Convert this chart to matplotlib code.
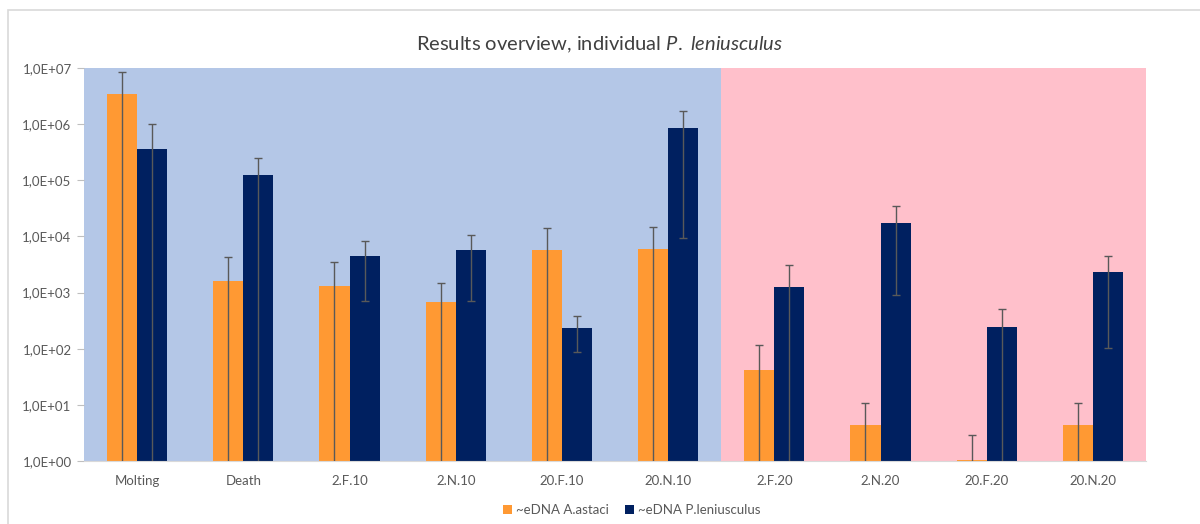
import numpy as np
import matplotlib.pyplot as plt
from matplotlib.patches import Rectangle
from matplotlib.ticker import FixedLocator, FixedFormatter

plt.rcParams['font.family'] = ['Lato', 'DejaVu Sans']
plt.rcParams['mathtext.fontset'] = 'custom'
plt.rcParams['mathtext.rm'] = 'Lato'
plt.rcParams['mathtext.it'] = 'Lato:italic'

categories = ['Molting', 'Death', '2.F.10', '2.N.10', '20.F.10', '20.N.10',
              '2.F.20', '2.N.20', '20.F.20', '20.N.20']

# ~eDNA A.astaci: mean, upper and lower error limits (0.1 = below axis)
astaci = [3.4e6, 1.6e3, 1.3e3, 6.8e2, 5.7e3, 6.0e3, 42, 4.3, 1.03, 4.3]
astaci_hi = [8.5e6, 4.3e3, 3.5e3, 1.5e3, 1.4e4, 1.47e4, 116, 10.7, 2.9, 11]
astaci_lo = [0.1, 0.1, 0.1, 0.1, 0.1, 0.1, 0.1, 0.1, 0.1, 0.1]

# ~eDNA P.leniusculus
lenius = [3.6e5, 1.24e5, 4.5e3, 5.7e3, 2.34e2, 8.5e5, 1.26e3, 1.76e4, 247, 2.3e3]
lenius_hi = [1.0e6, 2.5e5, 8.3e3, 1.06e4, 3.8e2, 1.7e6, 3.1e3, 3.5e4, 510, 4.5e3]
lenius_lo = [0.1, 0.1, 7.1e2, 7.1e2, 88, 9.4e3, 0.1, 9.06e2, 0.1, 103]

ytick_vals = [1e0, 1e1, 1e2, 1e3, 1e4, 1e5, 1e6, 1e7]
ytick_labels = ['1,0E+00', '1,0E+01', '1,0E+02', '1,0E+03',
                '1,0E+04', '1,0E+05', '1,0E+06', '1,0E+07']

n_blue = 6  # first six groups on blue background, rest on pink

c_orange = '#FF9933'
c_navy = '#002060'
c_blue = '#B4C7E7'
c_pink = '#FFC0CB'
c_err = '#595959'
c_text = '#595959'

fig = plt.figure(figsize=(12, 5.24), dpi=100)
ax = fig.add_axes([84 / 1200, 1 - 461 / 524, 1062 / 1200, 393 / 524])

# outer chart frame
fig.add_artist(Rectangle((8 / 1200, -0.1), 1.2, 1.1 - 10 / 524,
                         transform=fig.transFigure, fill=False,
                         edgecolor='#D9D9D9', lw=1.2))

x = np.arange(len(categories))
w = 0.283

ax.axvspan(-0.5, n_blue - 0.5, color=c_blue, zorder=0, lw=0)
ax.axvspan(n_blue - 0.5, len(categories) - 0.5, color=c_pink, zorder=0, lw=0)

a = np.array(astaci)
l = np.array(lenius)
ax.bar(x - w / 2, a, w, color=c_orange, label='~eDNA A.astaci', zorder=2)
ax.bar(x + w / 2, l, w, color=c_navy, label='~eDNA P.leniusculus', zorder=2)

ax.errorbar(x - w / 2, a, yerr=[a - np.array(astaci_lo), np.array(astaci_hi) - a],
            fmt='none', ecolor=c_err, elinewidth=1, capsize=3, capthick=1, zorder=3)
ax.errorbar(x + w / 2, l, yerr=[l - np.array(lenius_lo), np.array(lenius_hi) - l],
            fmt='none', ecolor=c_err, elinewidth=1, capsize=3, capthick=1, zorder=3)

ax.set_yscale('log')
ax.set_ylim(1, 1e7)
ax.set_xlim(-0.5, len(categories) - 0.5)
ax.yaxis.set_major_locator(FixedLocator(ytick_vals))
ax.yaxis.set_major_formatter(FixedFormatter(ytick_labels))
ax.yaxis.set_minor_locator(FixedLocator([]))
ax.set_xticks(x)
ax.set_xticklabels(categories)
ax.tick_params(axis='x', length=0, pad=10, labelsize=9.5, labelcolor=c_text)
ax.tick_params(axis='y', length=5, width=0.8, color='#BFBFBF', pad=4,
               labelsize=9.5, labelcolor=c_text)

for s in ['top', 'right', 'left']:
    ax.spines[s].set_visible(False)
ax.spines['bottom'].set_color('#D9D9D9')

fig.text(0.5, 1 - 45 / 524,
         r'Results overview, individual $\mathit{P.}$$\mathit{\ leniusculus}$',
         ha='center', va='center', fontsize=14.5, color='#404040')

fig.legend(loc='center', bbox_to_anchor=(632 / 1200, 1 - 510 / 524), ncol=2,
           frameon=False, fontsize=9.5, handlelength=0.7, handleheight=0.7,
           columnspacing=1.2, handletextpad=0.3, labelcolor=c_text)

fig.savefig('out.png', dpi=100)
